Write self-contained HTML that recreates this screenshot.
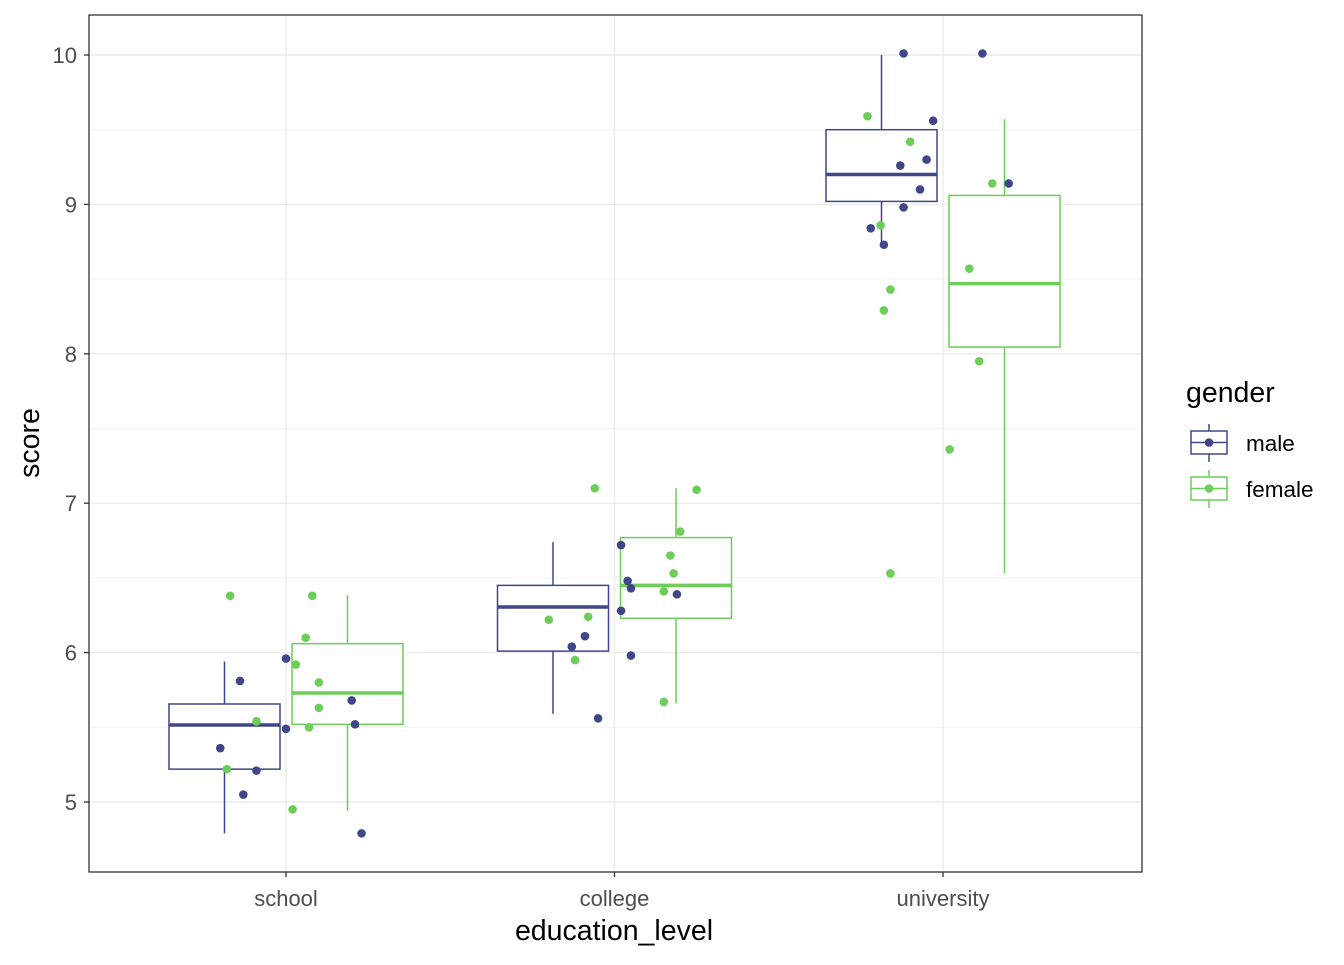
<!DOCTYPE html>
<html><head><meta charset="utf-8"><style>
html,body{margin:0;padding:0;background:#fff}
svg text{font-family:"Liberation Sans",Arial,sans-serif}
</style></head><body>
<svg id="c" width="1344" height="960" xmlns="http://www.w3.org/2000/svg"></svg>
<script>
const categories=["school","college","university"];
const genders=["male","female"];
const colors={male:"#3F4788",female:"#6CCE59"};
const yTicks=[5,6,7,8,9,10];
// box stats: [lowWhisker,Q1,median,Q3,highWhisker]
const boxMale=[[4.79,5.22,5.515,5.656,5.94],[5.59,6.01,6.305,6.45,6.74],[8.73,9.02,9.20,9.50,10.0]];
const boxFemale=[[4.94,5.52,5.73,6.06,6.385],[5.66,6.23,6.45,6.77,7.10],[6.53,8.045,8.47,9.06,9.57]];
// points: category index, jitter (category units), value
const maleCat=[0,0,0,0,0,0,0,0,0,1,1,1,1,1,1,1,1,1,2,2,2,2,2,2,2,2,2,2];
const maleJit=[-0.14,-0.20,-0.13,-0.09,0.0,0.0,0.20,0.21,0.23,0.02,0.04,0.05,0.19,0.02,-0.09,-0.13,0.05,-0.05,-0.12,0.12,-0.03,-0.05,-0.13,-0.07,0.20,-0.12,-0.22,-0.18];
const maleVal=[5.81,5.36,5.05,5.21,5.96,5.49,5.68,5.52,4.79,6.72,6.48,6.43,6.39,6.28,6.11,6.04,5.98,5.56,10.01,10.01,9.56,9.30,9.26,9.10,9.14,8.98,8.84,8.73];
const femCat=[0,0,0,0,0,0,0,0,0,0,1,1,1,1,1,1,1,1,1,1,2,2,2,2,2,2,2,2,2,2];
const femJit=[-0.17,0.08,0.06,0.03,0.10,0.10,-0.09,0.07,-0.18,0.02,-0.06,0.25,0.20,0.17,0.18,0.15,-0.08,-0.20,-0.12,0.15,-0.23,-0.10,0.15,-0.19,0.08,-0.16,-0.18,0.11,0.02,-0.16];
const femVal=[6.38,6.38,6.10,5.92,5.80,5.63,5.54,5.50,5.22,4.95,7.10,7.09,6.81,6.65,6.53,6.41,6.24,6.22,5.95,5.67,9.59,9.42,9.14,8.86,8.57,8.43,8.29,7.95,7.36,6.53];

const svg=document.getElementById('c');
const NS="http://www.w3.org/2000/svg";
const L=89,R=1142,T=15,B=872;
const catStep=328.5, cat0=286;
const xS=i=>cat0+i*catStep;
const yS=v=>802-(v-5)*149.4;
function mk(t,a,parent){const e=document.createElementNS(NS,t);for(const k in a)e.setAttribute(k,a[k]);(parent||svg).appendChild(e);return e;}
const grid=mk('g',{});


for(let v=4.5;v<=10.5;v+=1){const y=yS(v);if(y>T&&y<B)mk('line',{x1:L,x2:R,y1:y,y2:y,stroke:'#f3f3f3','stroke-width':1},grid);}
yTicks.forEach(v=>mk('line',{x1:L,x2:R,y1:yS(v),y2:yS(v),stroke:'#ebebeb','stroke-width':1.4},grid));
categories.forEach((c,i)=>mk('line',{x1:xS(i),x2:xS(i),y1:T,y2:B,stroke:'#ebebeb','stroke-width':1.4},grid));
function box(st,i,off,col,name){
  const g=mk('g',{});
  
  
  const cx=xS(i)+off,w=111;
  mk('line',{x1:cx,x2:cx,y1:yS(st[0]),y2:yS(st[1]),stroke:col,'stroke-width':1.5},g);
  mk('line',{x1:cx,x2:cx,y1:yS(st[3]),y2:yS(st[4]),stroke:col,'stroke-width':1.5},g);
  mk('rect',{x:cx-w/2,y:yS(st[3]),width:w,height:yS(st[1])-yS(st[3]),fill:'#fff',stroke:col,'stroke-width':1.5},g);
  mk('line',{x1:cx-w/2,x2:cx+w/2,y1:yS(st[2]),y2:yS(st[2]),stroke:col,'stroke-width':3.5},g);
}
categories.forEach((c,i)=>{box(boxMale[i],i,-61.5,colors.male,'box-male-'+c);box(boxFemale[i],i,61.5,colors.female,'box-female-'+c);});
function pts(cats,jit,vals,col,name){
  vals.forEach((v,k)=>{
    const p=mk('circle',{cx:xS(cats[k]+jit[k]),cy:yS(v),r:4.3,fill:col});
    
    
  });
}
pts(femCat,femJit,femVal,colors.female,'point-female');
pts(maleCat,maleJit,maleVal,colors.male,'point-male');
const fr=mk('rect',{x:L,y:T,width:R-L,height:B-T,fill:'none',stroke:'#333','stroke-width':1.3});


yTicks.forEach(v=>{
  mk('line',{x1:L-5,x2:L,y1:yS(v),y2:yS(v),stroke:'#333','stroke-width':1.3});
  const t=mk('text',{x:L-12,y:yS(v)+8,'text-anchor':'end','font-size':22,fill:'#4d4d4d'});t.textContent=v;
  
  
});
categories.forEach((c,i)=>{
  mk('line',{x1:xS(i),x2:xS(i),y1:B,y2:B+5,stroke:'#333','stroke-width':1.3});
  const t=mk('text',{x:xS(i),y:906,'text-anchor':'middle','font-size':22,fill:'#4d4d4d'});t.textContent=c;
  
  
});
</script>
<svg width="1344" height="960" style="position:absolute;left:0;top:0" xmlns="http://www.w3.org/2000/svg">
<text x="614" y="940" text-anchor="middle" font-size="28.5" fill="#000">education_level</text>
<text transform="translate(39,443) rotate(-90)" text-anchor="middle" font-size="28.5" fill="#000">score</text>
<text x="1186" y="402" font-size="28.5" fill="#000">gender</text>
<g>
<line x1="1209" x2="1209" y1="424" y2="462" stroke="#3F4788" stroke-width="1.5"/>
<rect x="1191" y="431" width="36" height="23" fill="#fff" stroke="#3F4788" stroke-width="1.5"/>
<line x1="1191" x2="1227" y1="442.5" y2="442.5" stroke="#3F4788" stroke-width="1.5"/>
<circle cx="1209" cy="442.5" r="4.3" fill="#3F4788"/>
<text x="1246" y="451" font-size="22.5" fill="#000">male</text>
</g>
<g>
<line x1="1209" x2="1209" y1="470" y2="508" stroke="#6CCE59" stroke-width="1.5"/>
<rect x="1191" y="477" width="36" height="23" fill="#fff" stroke="#6CCE59" stroke-width="1.5"/>
<line x1="1191" x2="1227" y1="488.5" y2="488.5" stroke="#6CCE59" stroke-width="1.5"/>
<circle cx="1209" cy="488.5" r="4.3" fill="#6CCE59"/>
<text x="1246" y="497" font-size="22.5" fill="#000">female</text>
</g>
</svg>
</body></html>
